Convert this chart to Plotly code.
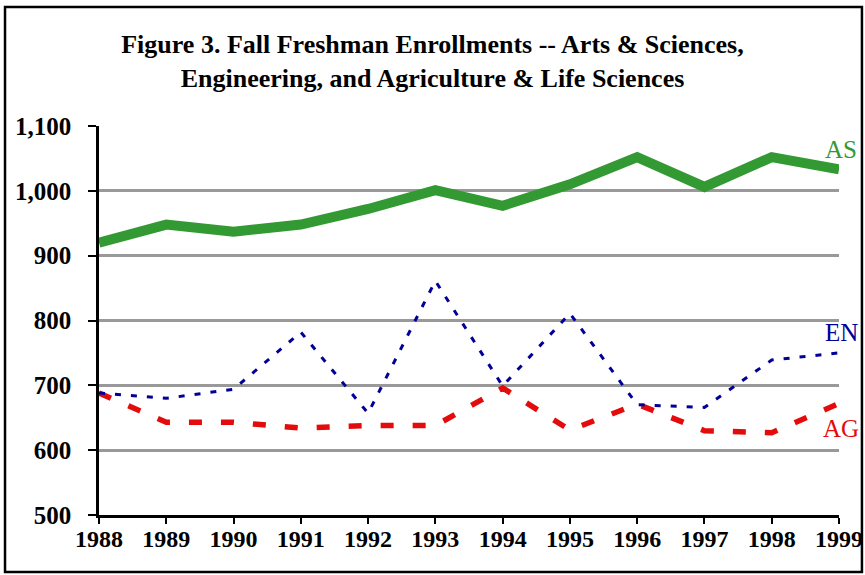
import plotly.graph_objects as go

years = list(range(1988, 2000))
arts_sciences = [920, 948, 937, 948, 972, 1001, 977, 1010, 1052, 1006, 1052, 1033]
engineering = [688, 680, 694, 782, 657, 861, 699, 811, 670, 666, 739, 750]
agriculture = [688, 643, 643, 634, 638, 638, 696, 631, 671, 630, 627, 672]

y_ticks = [500, 600, 700, 800, 900, 1000, 1100]
y_tick_labels = ["500", "600", "700", "800", "900", "1,000", "1,100"]

FONT = "Liberation Serif"

fig = go.Figure()

fig.add_trace(go.Scatter(
    x=years, y=agriculture, mode="lines", name="AG",
    line=dict(color="#e30b0b", width=5.5, dash="13px,19px"),
))
fig.add_trace(go.Scatter(
    x=years, y=engineering, mode="lines", name="EN",
    line=dict(color="#000099", width=3, dash="6px,10px"),
))
fig.add_trace(go.Scatter(
    x=years, y=arts_sciences, mode="lines", name="AS",
    line=dict(color="#339933", width=10),
))

# series labels at the right end
labels = [("AS", 1063, "#339933"), ("EN", 781, "#000099"), ("AG", 634, "#e30b0b")]
for text, yv, col in labels:
    fig.add_annotation(
        x=1999, y=yv, text=text, showarrow=False, xanchor="center",
        font=dict(family=FONT, size=25, color=col), xshift=2,
    )

# outer frame
fig.add_shape(
    type="rect", xref="paper", yref="paper",
    x0=-0.127, x1=1.031, y0=-0.1465, y1=1.306,
    line=dict(color="black", width=2.5),
)

fig.update_layout(
    width=865, height=575,
    margin=dict(l=99, r=26, t=126, b=60),
    paper_bgcolor="white", plot_bgcolor="white",
    showlegend=False,
    title=dict(
        text="Figure 3. Fall Freshman Enrollments -- Arts & Sciences,<br>"
             "Engineering, and Agriculture & Life Sciences",
        x=0.5, xanchor="center", y=0.908, yanchor="middle",
        font=dict(family=FONT, size=26, color="black", weight="bold"),
    ),
)

fig.update_xaxes(
    range=[1988, 1999], tickmode="array", tickvals=years,
    showgrid=False, showline=True, linecolor="black", linewidth=2.5,
    ticks="outside", ticklen=6, tickwidth=2, tickcolor="black",
    ticklabelstandoff=-6,
    tickfont=dict(family=FONT, size=24, color="black", weight="bold"),
    zeroline=False, automargin=False,
)
fig.update_yaxes(
    range=[500, 1100], tickmode="array", tickvals=y_ticks, ticktext=y_tick_labels,
    showgrid=True, gridcolor="#999999", gridwidth=2.5,
    showline=True, linecolor="black", linewidth=2.5,
    ticks="outside", ticklen=8, tickwidth=2, tickcolor="black",
    ticklabelstandoff=12,
    tickfont=dict(family=FONT, size=25, color="black", weight="bold"),
    zeroline=False, automargin=False,
)

fig.write_html(
    "out.html",
    config={"displayModeBar": False},
    post_script="document.body.style.margin='0';document.body.style.overflow='hidden';",
)
